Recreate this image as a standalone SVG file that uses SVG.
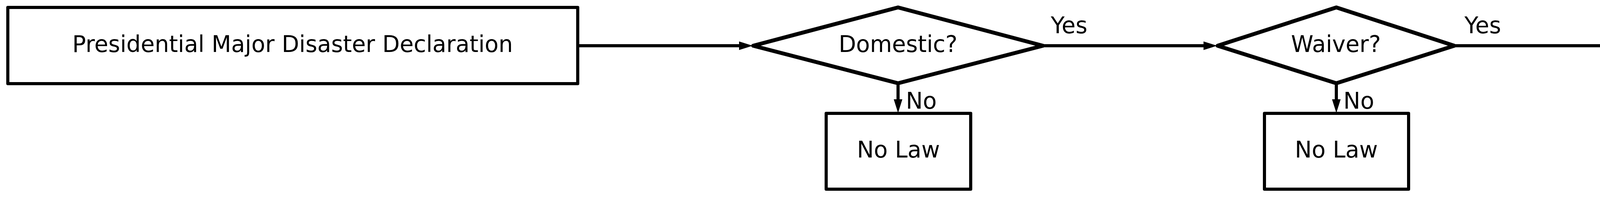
<svg xmlns="http://www.w3.org/2000/svg" width="4960" height="504" viewBox="0 0 4960 504">
<style>
.box{fill:#fff;stroke:#000;stroke-width:8;stroke-linejoin:round}
.dia{fill:#fff;stroke:#000;stroke-width:10;stroke-linejoin:round}
.t{font-family:"DejaVu Sans",sans-serif;font-size:58px;fill:#000}
.c{text-anchor:middle}
.edge{fill:none;stroke:#000;stroke-width:8}
</style>
<defs>
<marker id="arr" viewBox="0 0 35 22" refX="0" refY="11" markerWidth="35" markerHeight="22" markerUnits="userSpaceOnUse" orient="auto">
<path d="M0,0 L35,11 L0,22 z" fill="#000"/>
</marker>
</defs>
<rect width="4960" height="504" fill="#fff"/>
<g id="connectors">
<path class="edge" d="M1482,117 H1892" marker-end="url(#arr)"/>
<path class="edge" d="M2670,117 H3081" marker-end="url(#arr)"/>
<path class="edge" d="M2299,213 V254" marker-end="url(#arr)"/>
<path class="edge" d="M3724,117 H4136" marker-end="url(#arr)"/>
<path class="edge" d="M3421,213 V254" marker-end="url(#arr)"/>
<text class="t" x="2690" y="85">Yes</text>
<text class="t" x="2319" y="278">No</text>
<text class="t" x="3749" y="85">Yes</text>
<text class="t" x="3439" y="278">No</text>
</g>
<g id="start">
<rect class="box" x="20" y="19" width="1459" height="195"/>
<text class="t c" x="749" y="133">Presidential Major Disaster Declaration</text>
</g>
<g id="domestic">
<polygon class="dia" points="1928,117 2299,19 2670,117 2299,213"/>
<text class="t c" x="2299" y="133">Domestic?</text>
</g>
<g id="nolaw1">
<rect class="box" x="2115" y="290" width="370" height="194"/>
<text class="t c" x="2300" y="403">No Law</text>
</g>
<g id="waiver">
<polygon class="dia" points="3117,117 3421,19 3723,117 3421,213"/>
<text class="t c" x="3420" y="133">Waiver?</text>
</g>
<g id="nolaw2">
<rect class="box" x="3237" y="290" width="369" height="194"/>
<text class="t c" x="3421" y="403">No Law</text>
</g>
<g id="statute">
<rect class="box" x="4175" y="19" width="766" height="195"/>
<text class="t c" x="4558" y="133">42 U.S.C. §1320b–5</text>
</g>
</svg>
